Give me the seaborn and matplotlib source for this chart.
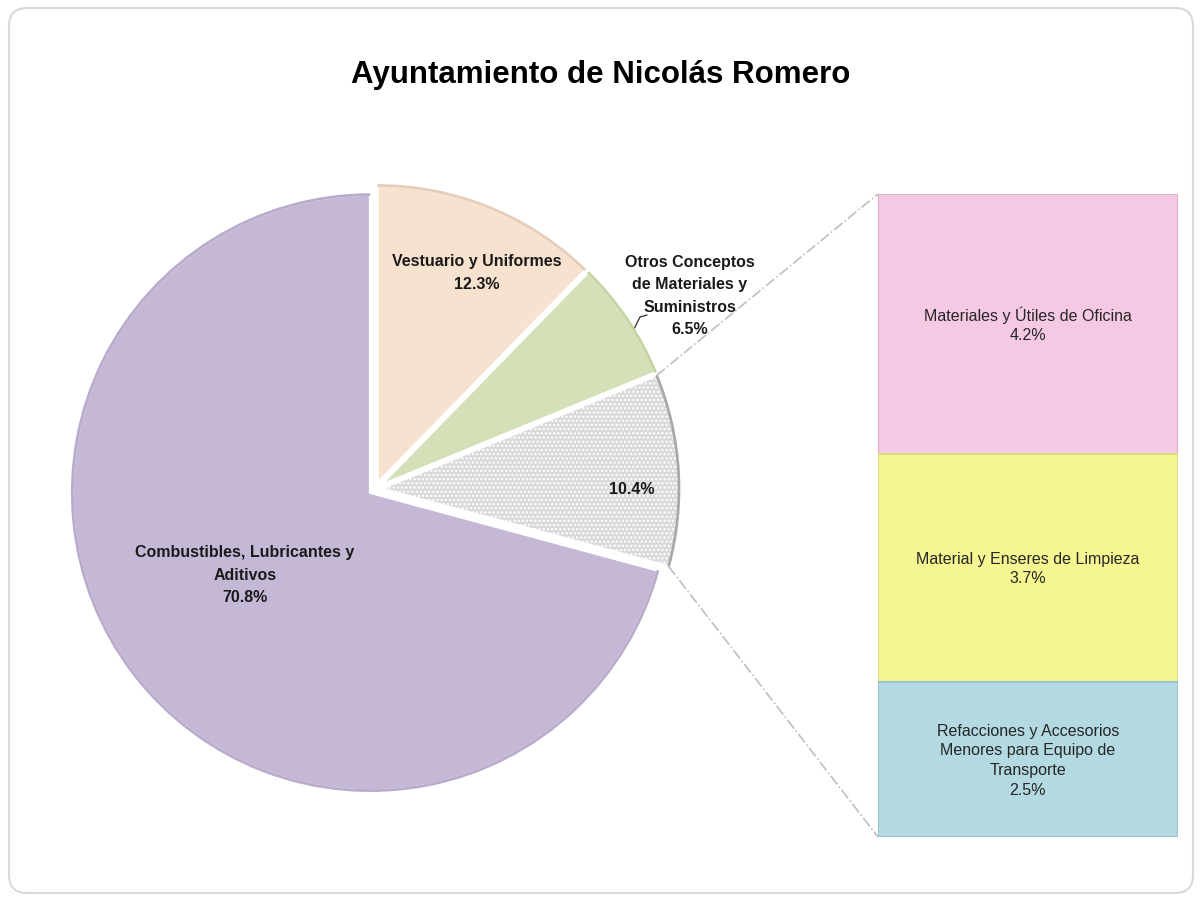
import numpy as np
import matplotlib
matplotlib.use("Agg")
import matplotlib.pyplot as plt
import seaborn as sns
from matplotlib.patches import FancyBboxPatch, Arc

# ---- data ----
pie_labels = ["Combustibles, Lubricantes y\nAditivos", "", "Otros Conceptos\nde Materiales y\nSuministros",
              "Vestuario y Uniformes"]
pie_values = [70.8, 10.4, 6.5, 12.3]
pie_colors = ["#C5B8D6", "#D8D8D8", "#D4E1B8", "#F7E1CF"]

bar_labels = ["Refacciones y Accesorios\nMenores para Equipo de\nTransporte",
              "Material y Enseres de Limpieza",
              "Materiales y Útiles de Oficina"]
bar_values = [2.5, 3.7, 4.2]   # bottom -> top
bar_colors = ["#B3D9E1", "#F5F592", "#F5C9E4"]
bar_edges = ["#9CC3CF", "#DCDC7A", "#DDB0CC"]

title = "Ayuntamiento de Nicolás Romero"

W, H = 1202, 903
sns.set_theme(style="white")
plt.rcParams["font.family"] = ["Liberation Sans", "DejaVu Sans"]
plt.rcParams["hatch.color"] = "#EFEFEF"
plt.rcParams["hatch.linewidth"] = 1.2

fig = plt.figure(figsize=(W / 100, H / 100), dpi=100)
ax = fig.add_axes([0, 0, 1, 1])

# outer rounded frame
frame = FancyBboxPatch((9, 9), W - 18, H - 18, boxstyle="round,pad=0,rounding_size=18",
                       facecolor="white", edgecolor="#D9D9D9", linewidth=1.5, zorder=0)
ax.add_patch(frame)

# pie drawn in pixel units (y measured upward)
cx, cy, r = 375, H - 490, 298
wedges, _ = ax.pie(pie_values, colors=pie_colors, startangle=90, counterclock=True,
                   center=(cx, cy), radius=r, explode=[0.02 * r] * 4,
                   wedgeprops=dict(edgecolor="white", linewidth=2), frame=True)
wedges[1].set_hatch("....")
for w, ec in zip(wedges, ["#B9ABCC", "#A8A8A8", "#C3D3A2", "#E5CDB9"]):
    ax.add_patch(Arc(w.center, 2 * w.r, 2 * w.r, theta1=w.theta1, theta2=w.theta2,
                     color=ec, linewidth=2, zorder=3))

ax.set_xlim(0, W)
ax.set_ylim(0, H)
ax.set_aspect("auto")
ax.axis("off")

# pie labels (pixel positions, y from top)
lab_pos = [(245, 575), None, (690, 296), (477, 273)]
for i, (lab, pos) in enumerate(zip(pie_labels, lab_pos)):
    if pos is None:
        continue
    ax.text(pos[0], H - pos[1], f"{lab}\n{pie_values[i]:.1f}%", ha="center", va="center",
            fontsize=11.5, fontweight="bold", color="#1a1a1a", linespacing=1.6)
ax.text(632, H - 490, f"{pie_values[1]:.1f}%", ha="center", va="center",
        fontsize=11.5, fontweight="bold", color="#1a1a1a")
# leader line for small slice label
ax.plot([634, 640, 647], [H - 330, H - 318, H - 316], color="#404040", linewidth=1)

# bar of pie
bx0, by0, bw, bh = 878, 838, 300, 643
bax = fig.add_axes([bx0 / W, (H - by0) / H, bw / W, bh / H])
cum = np.cumsum(bar_values)
for i in range(len(bar_values) - 1, -1, -1):
    sns.barplot(x=[0], y=[cum[i]], color=bar_colors[i], width=1.0, ax=bax,
                edgecolor=bar_edges[i], linewidth=1.5, saturation=1)
bottoms = cum - np.array(bar_values)
for i, (lab, v) in enumerate(zip(bar_labels, bar_values)):
    bax.text(0, bottoms[i] + v / 2, f"{lab}\n{v:.1f}%", ha="center", va="center",
             fontsize=11.5, color="#262626", linespacing=1.4)
bax.set_xlim(-0.5, 0.5)
bax.set_ylim(0, cum[-1])
bax.axis("off")

# connector lines from the gray wedge to the bar
g = wedges[1]
gx, gy = g.center
p_top = (gx + g.r * np.cos(np.radians(g.theta2)), gy + g.r * np.sin(np.radians(g.theta2)))
p_bot = (gx + g.r * np.cos(np.radians(g.theta1)), gy + g.r * np.sin(np.radians(g.theta1)))
ax.plot([p_top[0], bx0], [p_top[1], H - (by0 - bh)], color="#BFBFBF", linestyle="-.", linewidth=1.2)
ax.plot([p_bot[0], bx0], [p_bot[1], H - by0], color="#BFBFBF", linestyle="-.", linewidth=1.2)

ax.text(W / 2, H - 75, title, ha="center", va="center", fontsize=22.5, fontweight="bold", color="black")

fig.savefig("out.png", dpi=100)
